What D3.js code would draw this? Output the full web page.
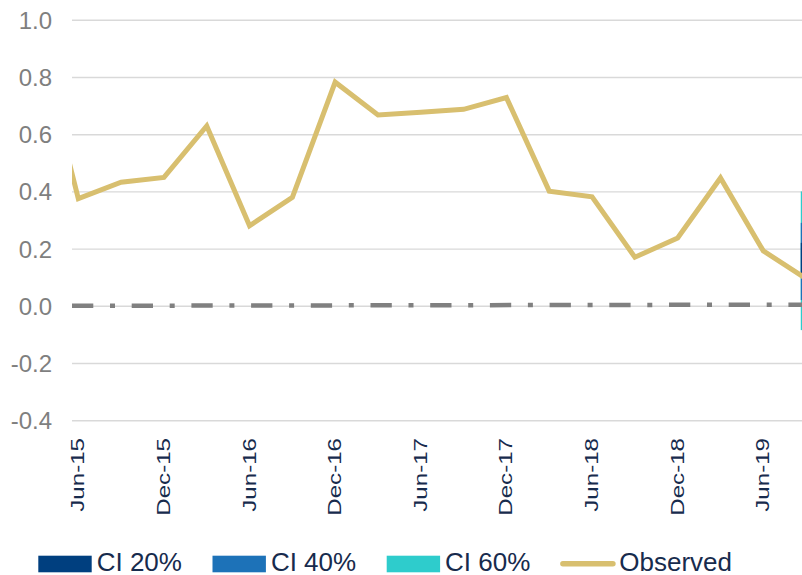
<!DOCTYPE html>
<html>
<head>
<meta charset="utf-8">
<script src="https://cdn.jsdelivr.net/npm/d3@7"></script>
<style>
  html, body { margin: 0; padding: 0; background: #ffffff; }
  svg { display: block; font-family: "Liberation Sans", Arial, sans-serif; }
</style>
</head>
<body>
<svg id="chart" width="802" height="575"></svg>
<script>
// ---------- data ----------
const quarters = ["Mar-15","Jun-15","Sep-15","Dec-15","Mar-16","Jun-16","Sep-16","Dec-16",
                  "Mar-17","Jun-17","Sep-17","Dec-17","Mar-18","Jun-18","Sep-18","Dec-18",
                  "Mar-19","Jun-19","Sep-19","Dec-19","Mar-20"];
const observed = [0.97, 0.375, 0.432, 0.449, 0.629, 0.28, 0.379, 0.782,
                  0.667, 0.677, 0.687, 0.728, 0.401, 0.381, 0.17, 0.237,
                  0.447, 0.192, 0.095];
const forecastQuarters = ["Sep-19","Dec-19","Mar-20"];
const ci60Low  = [-0.085, -0.16, -0.22];
const ci60High = [0.40, 0.46, 0.52];
const ci40Low  = [0.02, -0.05, -0.10];
const ci40High = [0.29, 0.34, 0.40];
const ci20Low  = [0.10, 0.06, 0.02];
const ci20High = [0.22, 0.25, 0.29];
const zeroLine = [0.0, 0.004];           // reference line at the plot's left and right edge
const xTickLabels = ["Jun-15","Dec-15","Jun-16","Dec-16","Jun-17","Dec-17","Jun-18","Dec-18","Jun-19"];
const yTicks = [-0.4, -0.2, 0.0, 0.2, 0.4, 0.6, 0.8, 1.0];
const legendLabels = ["CI 20%", "CI 40%", "CI 60%", "Observed"];

// ---------- layout ----------
const W = 802, H = 575;
const plotLeft = 72, plotRight = 802;
const colors = { ci20: "#003F7F", ci40: "#1D72B8", ci60: "#2ECCCC", obs: "#D8BF6F",
                 zero: "#808080", grid: "#D9D9D9", yText: "#7F7F7F", navy: "#172B4D" };

const svg = d3.select("#chart");

const qIndex = d3.scaleOrdinal().domain(quarters).range(d3.range(quarters.length));
const xi = d3.scaleLinear().domain([1, 17]).range([78.3, 763.3]);
const x = q => xi(qIndex(q));
const y = d3.scaleLinear().domain([-0.4, 1.0]).range([420.2, 19.8]);

// clip for plot area
svg.append("defs").append("clipPath").attr("id", "plotClip")
  .append("rect").attr("x", plotLeft).attr("y", 0).attr("width", plotRight - plotLeft).attr("height", H);

// ---------- gridlines ----------
const grid = svg.append("g").attr("transform", `translate(${plotLeft},0)`)
  .call(d3.axisLeft(y).tickValues(yTicks).tickSize(-(plotRight - plotLeft)).tickFormat(""));
grid.select(".domain").remove();
grid.selectAll("line").attr("stroke", colors.grid).attr("stroke-width", 1.4);

// ---------- y axis labels ----------
const yAxis = svg.append("g").attr("transform", "translate(52,0)")
  .call(d3.axisLeft(y).tickValues(yTicks).tickSize(0).tickPadding(0).tickFormat(d => d.toFixed(1)));
yAxis.select(".domain").remove();
yAxis.selectAll("text").attr("font-size", 24).attr("fill", colors.yText)
  .attr("font-family", "Liberation Sans, Arial, sans-serif").attr("dy", "0.35em");

// ---------- plot contents ----------
const plot = svg.append("g").attr("clip-path", "url(#plotClip)");

// CI bands (stacked columns for the forecast period)
const colW = (xi(1) - xi(0)) * 0.25;
const bands = [
  { low: ci60Low, high: ci60High, color: colors.ci60 },
  { low: ci40Low, high: ci40High, color: colors.ci40 },
  { low: ci20Low, high: ci20High, color: colors.ci20 }
];
bands.forEach(b => {
  plot.append("g").selectAll("rect").data(forecastQuarters).join("rect")
    .attr("x", q => x(q) - colW / 2)
    .attr("width", colW)
    .attr("y", (q, i) => y(b.high[i]))
    .attr("height", (q, i) => y(b.low[i]) - y(b.high[i]))
    .attr("fill", b.color);
});

// zero reference (dash-dot)
const zeroX = d3.scaleLinear().domain([0, zeroLine.length - 1]).range([plotLeft, plotRight]);
plot.append("path")
  .datum(zeroLine)
  .attr("d", d3.line().x((d, i) => zeroX(i)).y(d => y(d)))
  .attr("fill", "none")
  .attr("stroke", colors.zero)
  .attr("stroke-width", 4.5)
  .attr("stroke-dasharray", "21.3 16.7 5 16.7");

// observed line
plot.append("path")
  .datum(observed)
  .attr("d", d3.line().x((d, i) => x(quarters[i])).y(d => y(d)))
  .attr("fill", "none")
  .attr("stroke", colors.obs)
  .attr("stroke-width", 5)
  .attr("stroke-linejoin", "miter");

// ---------- x axis labels ----------
const xAxis = svg.append("g").attr("transform", "translate(0,438)")
  .call(d3.axisBottom(d3.scalePoint().domain(quarters).range([xi(0), xi(quarters.length - 1)]))
    .tickValues(xTickLabels).tickSize(0));
xAxis.select(".domain").remove();
xAxis.selectAll("text")
  .attr("x", 0).attr("y", 0).attr("dy", "0.29em")
  .attr("text-anchor", "end")
  .attr("transform", "rotate(-90) scale(1.27,1)")
  .attr("font-size", 19)
  .attr("font-family", "Liberation Sans, Arial, sans-serif")
  .attr("fill", colors.navy);

// ---------- legend ----------
const legX = d3.scaleLinear().domain([0, 3]).range([38.3, 560.9]);
const legend = svg.append("g");
const swatchColors = [colors.ci20, colors.ci40, colors.ci60];
legendLabels.forEach((lab, i) => {
  const g = legend.append("g").attr("transform", `translate(${legX(i)},0)`);
  if (i < 3) {
    g.append("rect").attr("x", 0).attr("y", 555.7).attr("width", 53.4).attr("height", 16.6)
      .attr("fill", swatchColors[i]);
  } else {
    g.append("line").attr("x1", 2).attr("x2", 52).attr("y1", 563.7).attr("y2", 563.7)
      .attr("stroke", colors.obs).attr("stroke-width", 5.5).attr("stroke-linecap", "round");
  }
  g.append("text").attr("x", 58.4).attr("y", 570.5)
    .attr("font-size", 26).attr("fill", colors.navy)
    .attr("font-family", "Liberation Sans, Arial, sans-serif")
    .text(lab);
});
</script>
</body>
</html>
